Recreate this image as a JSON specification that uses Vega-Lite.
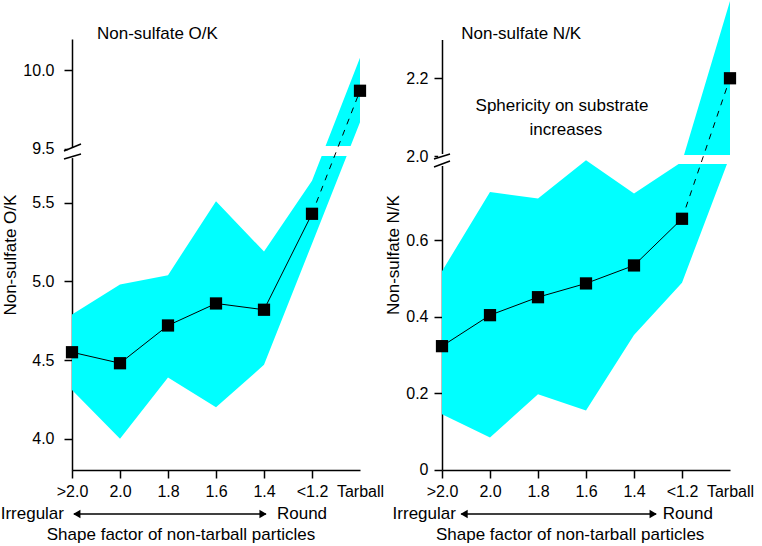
{
  "$schema": "https://vega.github.io/schema/vega-lite/v6.json",
  "background": "white",
  "padding": {"left": 0, "top": 0, "right": 0, "bottom": 0},
  "config": {"font": "Liberation Sans", "view": {"stroke": null}},
  "datasets": {
    "ok": [
      {"x": 0, "factor": ">2.0", "v": 4.55, "lo": 4.31, "hi": 4.79},
      {"x": 1, "factor": "2.0", "v": 4.48, "lo": 4.00, "hi": 4.98},
      {"x": 2, "factor": "1.8", "v": 4.72, "lo": 4.39, "hi": 5.04},
      {"x": 3, "factor": "1.6", "v": 4.86, "lo": 4.20, "hi": 5.51},
      {"x": 4, "factor": "1.4", "v": 4.82, "lo": 4.47, "hi": 5.19},
      {"x": 5, "factor": "<1.2", "v": 5.43, "lo": 5.24, "hi": 5.64},
      {"x": 6, "factor": "Tarball", "v": 9.87, "lo": 9.67, "hi": 10.08}
    ],
    "nk": [
      {"x": 0, "factor": ">2.0", "v": 0.323, "lo": 0.145, "hi": 0.519},
      {"x": 1, "factor": "2.0", "v": 0.404, "lo": 0.084, "hi": 0.726},
      {"x": 2, "factor": "1.8", "v": 0.451, "lo": 0.197, "hi": 0.709},
      {"x": 3, "factor": "1.6", "v": 0.487, "lo": 0.155, "hi": 0.809},
      {"x": 4, "factor": "1.4", "v": 0.534, "lo": 0.352, "hi": 0.722},
      {"x": 5, "factor": "<1.2", "v": 0.656, "lo": 0.489, "hi": 0.805},
      {"x": 6, "factor": "Tarball", "v": 2.2, "lo": 2.0, "hi": 2.399}
    ]
  },
  "spacing": 82,
  "bounds": "flush",
  "resolve": {"scale": {"x": "independent", "y": "independent"}},
  "hconcat": [
    {
      "width": 288,
      "height": 431,
      "data": {"name": "ok"},
      "layer": [
        {
          "mark": {"type": "area", "color": "#00FFFF", "opacity": 1},
          "encoding": {
            "x": {"field": "x", "type": "quantitative",
              "scale": {"domain": [0, 6], "nice": false, "zero": false},
              "axis": {"title": null, "values": [0, 1, 2, 3, 4, 5, 6],
                "labelExpr": "['>2.0','2.0','1.8','1.6','1.4','<1.2','Tarball'][datum.value]",
                "labelFlush": false, "labelOverlap": false, "grid": false,
                "tickSize": 8, "labelPadding": 5, "labelFontSize": 16,
                "domainColor": "black", "tickColor": "black", "labelColor": "black",
                "domainWidth": 1.5, "tickWidth": 1.5,
                "tickOpacity": {"condition": {"test": "datum.value === 6", "value": 0}, "value": 1}}},
            "y": {"field": "lo", "type": "quantitative",
              "scale": {"domain": [3.8, 5.84, 9.5, 10.2], "range": [431.2, 110.3, 109.8, 0], "nice": false, "zero": false},
              "axis": {"title": "Non-sulfate O/K", "values": [4, 4.5, 5, 5.5, 9.5, 10], "format": ".1f", "grid": false,
                "tickSize": 8, "labelPadding": 10, "titlePadding": 3, "labelFontSize": 16, "titleFontSize": 17,
                "titleFontWeight": "normal", "domainColor": "black", "tickColor": "black", "labelColor": "black",
                "titleColor": "black", "domainWidth": 1.5, "tickWidth": 1.5}},
            "y2": {"field": "hi"}
          }
        },
        {
          "data": {"values": [{}]},
          "mark": {"type": "rect", "color": "white"},
          "encoding": {"x": {"datum": 4.5}, "x2": {"datum": 6.3}, "y": {"datum": 5.7975}, "y2": {"datum": 9.518}}
        },
        {
          "data": {"values": [{}]},
          "mark": {"type": "rect", "color": "white"},
          "encoding": {"x": {"datum": -0.08}, "x2": {"datum": 0.08}, "y": {"datum": 5.784}, "y2": {"datum": 9.5053}}
        },
        {
          "data": {"values": [{}]},
          "mark": {"type": "rule", "color": "black", "strokeWidth": 1.5},
          "encoding": {"x": {"datum": -0.167}, "x2": {"datum": 0.1875}, "y": {"datum": 5.829}, "y2": {"datum": 9.531}}
        },
        {
          "data": {"values": [{}]},
          "mark": {"type": "rule", "color": "black", "strokeWidth": 1.5},
          "encoding": {"x": {"datum": -0.167}, "x2": {"datum": 0.1875}, "y": {"datum": 5.778}, "y2": {"datum": 5.810}}
        },
        {
          "transform": [{"filter": "datum.x <= 5"}],
          "mark": {"type": "line", "color": "black", "strokeWidth": 1},
          "encoding": {"x": {"field": "x", "type": "quantitative"}, "y": {"field": "v", "type": "quantitative"}}
        },
        {
          "transform": [{"filter": "datum.x >= 5"}],
          "mark": {"type": "line", "color": "black", "strokeWidth": 1, "strokeDash": [6, 6]},
          "encoding": {"x": {"field": "x", "type": "quantitative"}, "y": {"field": "v", "type": "quantitative"}}
        },
        {
          "mark": {"type": "point", "shape": "square", "filled": true, "color": "black", "size": 150, "opacity": 1},
          "encoding": {"x": {"field": "x", "type": "quantitative"}, "y": {"field": "v", "type": "quantitative"}}
        },
        {
          "data": {"values": [{}]},
          "mark": {"type": "text", "text": "Non-sulfate O/K", "align": "left", "baseline": "middle", "fontSize": 17, "color": "black"},
          "encoding": {"x": {"datum": 0.52}, "y": {"datum": 10.232}}
        },
        {
          "data": {"values": [{}]},
          "mark": {"type": "text", "text": "Irregular", "align": "right", "baseline": "middle", "fontSize": 17, "color": "black"},
          "encoding": {"x": {"datum": -0.167}, "y": {"datum": 3.5215}}
        },
        {
          "data": {"values": [{}]},
          "mark": {"type": "text", "text": "Round", "align": "left", "baseline": "middle", "fontSize": 17, "color": "black"},
          "encoding": {"x": {"datum": 4.27}, "y": {"datum": 3.5215}}
        },
        {
          "data": {"values": [{}]},
          "mark": {"type": "text", "text": "Shape factor of non-tarball particles", "align": "center", "baseline": "middle", "fontSize": 17, "color": "black"},
          "encoding": {"x": {"datum": 2.27}, "y": {"datum": 3.388}}
        },
        {
          "data": {"values": [{}]},
          "mark": {"type": "rule", "color": "black", "strokeWidth": 1.5},
          "encoding": {"x": {"datum": 0.04}, "x2": {"datum": 4.04}, "y": {"datum": 3.5215}}
        },
        {
          "data": {"values": [{}]},
          "mark": {"type": "point", "shape": "triangle-left", "filled": true, "color": "black", "size": 70, "opacity": 1},
          "encoding": {"x": {"datum": 0.1}, "y": {"datum": 3.5215}}
        },
        {
          "data": {"values": [{}]},
          "mark": {"type": "point", "shape": "triangle-right", "filled": true, "color": "black", "size": 70, "opacity": 1},
          "encoding": {"x": {"datum": 3.98}, "y": {"datum": 3.5215}}
        }
      ]
    },
    {
      "width": 288,
      "height": 431,
      "data": {"name": "nk"},
      "layer": [
        {
          "mark": {"type": "area", "color": "#00FFFF", "opacity": 1},
          "encoding": {
            "x": {"field": "x", "type": "quantitative",
              "scale": {"domain": [0, 6], "nice": false, "zero": false},
              "axis": {"title": null, "values": [0, 1, 2, 3, 4, 5, 6],
                "labelExpr": "['>2.0','2.0','1.8','1.6','1.4','<1.2','Tarball'][datum.value]",
                "labelFlush": false, "labelOverlap": false, "grid": false,
                "tickSize": 8, "labelPadding": 5, "labelFontSize": 16,
                "domainColor": "black", "tickColor": "black", "labelColor": "black",
                "domainWidth": 1.5, "tickWidth": 1.5,
                "tickOpacity": {"condition": {"test": "datum.value === 6", "value": 0}, "value": 1}}},
            "y": {"field": "lo", "type": "quantitative",
              "scale": {"domain": [0, 0.82, 2.0, 2.3], "range": [430.7, 117.05, 117, 0.4], "nice": false, "zero": false},
              "axis": {"title": "Non-sulfate N/K", "values": [0, 0.2, 0.4, 0.6, 2.0, 2.2],
                "labelExpr": "datum.value == 0 ? '0' : format(datum.value, '.1f')", "grid": false,
                "tickSize": 8, "labelPadding": 6, "titlePadding": 3, "labelFontSize": 16, "titleFontSize": 17,
                "titleFontWeight": "normal", "domainColor": "black", "tickColor": "black", "labelColor": "black",
                "titleColor": "black", "domainWidth": 1.5, "tickWidth": 1.5}},
            "y2": {"field": "hi"}
          }
        },
        {
          "data": {"values": [{}]},
          "mark": {"type": "rect", "color": "white"},
          "encoding": {"x": {"datum": 4.3}, "x2": {"datum": 6.3}, "y": {"datum": 0.7992}, "y2": {"datum": 2.0026}}
        },
        {
          "data": {"values": [{}]},
          "mark": {"type": "rect", "color": "white"},
          "encoding": {"x": {"datum": -0.08}, "x2": {"datum": 0.08}, "y": {"datum": 0.794}, "y2": {"datum": 2.0051}}
        },
        {
          "data": {"values": [{}]},
          "mark": {"type": "rule", "color": "black", "strokeWidth": 1.5},
          "encoding": {"x": {"datum": -0.167}, "x2": {"datum": 0.167}, "y": {"datum": 0.8123}, "y2": {"datum": 2.0051}}
        },
        {
          "data": {"values": [{}]},
          "mark": {"type": "rule", "color": "black", "strokeWidth": 1.5},
          "encoding": {"x": {"datum": -0.167}, "x2": {"datum": 0.167}, "y": {"datum": 0.7914}, "y2": {"datum": 0.8071}}
        },
        {
          "transform": [{"filter": "datum.x <= 5"}],
          "mark": {"type": "line", "color": "black", "strokeWidth": 1},
          "encoding": {"x": {"field": "x", "type": "quantitative"}, "y": {"field": "v", "type": "quantitative"}}
        },
        {
          "transform": [{"filter": "datum.x >= 5"}],
          "mark": {"type": "line", "color": "black", "strokeWidth": 1, "strokeDash": [6, 6]},
          "encoding": {"x": {"field": "x", "type": "quantitative"}, "y": {"field": "v", "type": "quantitative"}}
        },
        {
          "mark": {"type": "point", "shape": "square", "filled": true, "color": "black", "size": 150, "opacity": 1},
          "encoding": {"x": {"field": "x", "type": "quantitative"}, "y": {"field": "v", "type": "quantitative"}}
        },
        {
          "data": {"values": [{}]},
          "mark": {"type": "text", "text": "Non-sulfate N/K", "align": "left", "baseline": "middle", "fontSize": 17, "color": "black"},
          "encoding": {"x": {"datum": 0.4}, "y": {"datum": 2.3139}}
        },
        {
          "data": {"values": [{}]},
          "mark": {"type": "text", "text": "Sphericity on substrate", "align": "center", "baseline": "middle", "fontSize": 17, "color": "black"},
          "encoding": {"x": {"datum": 2.5}, "y": {"datum": 2.1287}}
        },
        {
          "data": {"values": [{}]},
          "mark": {"type": "text", "text": "increases", "align": "center", "baseline": "middle", "fontSize": 17, "color": "black"},
          "encoding": {"x": {"datum": 2.58}, "y": {"datum": 2.0669}}
        },
        {
          "data": {"values": [{}]},
          "mark": {"type": "text", "text": "Irregular", "align": "right", "baseline": "middle", "fontSize": 17, "color": "black"},
          "encoding": {"x": {"datum": 0.29}, "y": {"datum": -0.1158}}
        },
        {
          "data": {"values": [{}]},
          "mark": {"type": "text", "text": "Round", "align": "left", "baseline": "middle", "fontSize": 17, "color": "black"},
          "encoding": {"x": {"datum": 4.6}, "y": {"datum": -0.1158}}
        },
        {
          "data": {"values": [{}]},
          "mark": {"type": "text", "text": "Shape factor of non-tarball particles", "align": "center", "baseline": "middle", "fontSize": 17, "color": "black"},
          "encoding": {"x": {"datum": 2.67}, "y": {"datum": -0.1707}}
        },
        {
          "data": {"values": [{}]},
          "mark": {"type": "rule", "color": "black", "strokeWidth": 1.5},
          "encoding": {"x": {"datum": 0.4}, "x2": {"datum": 4.46}, "y": {"datum": -0.1158}}
        },
        {
          "data": {"values": [{}]},
          "mark": {"type": "point", "shape": "triangle-left", "filled": true, "color": "black", "size": 70, "opacity": 1},
          "encoding": {"x": {"datum": 0.46}, "y": {"datum": -0.1158}}
        },
        {
          "data": {"values": [{}]},
          "mark": {"type": "point", "shape": "triangle-right", "filled": true, "color": "black", "size": 70, "opacity": 1},
          "encoding": {"x": {"datum": 4.4}, "y": {"datum": -0.1158}}
        }
      ]
    }
  ]
}
